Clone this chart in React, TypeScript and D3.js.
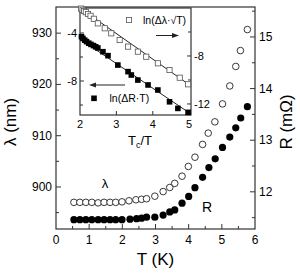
import React from 'react';
import * as d3 from 'd3';

// main panel: temperature sweep
const lambdaT = [0.54, 0.72, 0.9, 1.08, 1.27, 1.45, 1.63, 1.8, 1.99, 2.2, 2.41, 2.58, 2.73, 2.98, 3.23, 3.43, 3.58, 3.8, 3.99, 4.19, 4.42, 4.59, 4.79, 5.02, 5.24, 5.42, 5.56, 5.77];
const lambdaNm = [897.0, 897.0, 897.0, 897.0, 896.9, 897.0, 897.0, 897.0, 897.1, 897.3, 897.5, 897.6, 897.7, 898.2, 899.1, 899.9, 900.7, 902.1, 904.0, 905.8, 908.3, 910.5, 912.7, 916.2, 919.7, 923.5, 926.6, 930.7];
const resT = [0.54, 0.72, 0.9, 1.08, 1.27, 1.45, 1.63, 1.8, 1.99, 2.23, 2.43, 2.58, 2.73, 2.98, 3.23, 3.43, 3.58, 3.8, 4.0, 4.19, 4.42, 4.61, 4.8, 5.02, 5.24, 5.42, 5.57, 5.77];
const resMOhm = [11.46, 11.46, 11.46, 11.46, 11.46, 11.46, 11.46, 11.46, 11.46, 11.47, 11.48, 11.49, 11.51, 11.51, 11.55, 11.61, 11.65, 11.78, 11.91, 12.08, 12.28, 12.47, 12.64, 12.86, 13.06, 13.24, 13.43, 13.65];

// inset: Tc/T
const insetLamX = [2.03, 2.07, 2.11, 2.16, 2.22, 2.29, 2.38, 2.49, 2.68, 2.86, 3.09, 3.32, 3.59, 3.82, 4.14, 4.46, 4.74, 4.97];
const insetLamY = [-4.05, -4.15, -4.25, -4.35, -4.5, -4.65, -4.9, -5.28, -5.69, -6.11, -6.67, -7.22, -7.64, -8.06, -8.61, -9.17, -9.81, -10.36];
const insetResX = [2.04, 2.08, 2.13, 2.18, 2.24, 2.3, 2.37, 2.43, 2.49, 2.63, 2.77, 3.04, 3.32, 3.41, 3.59, 3.87, 4.14, 4.46, 4.69, 4.97];
const insetResY = [-4.31, -4.45, -4.6, -4.72, -4.85, -4.95, -5.05, -5.15, -5.25, -5.56, -5.89, -6.67, -7.22, -7.5, -7.92, -8.33, -8.75, -9.73, -10.28, -10.61];
const fitLam = [[2, -4.0], [5.05, -10.5]];
const fitRes = [[2, -4.5], [5.05, -10.75]];

const xTicks = [0, 1, 2, 3, 4, 5, 6];
const lamTicks = [900, 910, 920, 930];
const resTicks = [12, 13, 14, 15];
const insetXTicks = [2, 3, 4, 5];
const insetLTicks = [-4, -8];
const insetRTicks = [-8, -12];

const FONT = 'Liberation Sans, Arial, sans-serif';

export default function App() {
  const x = d3.scaleLinear().domain([0, 6]).range([56, 255]);
  const yL = d3.scaleLinear().domain([891.8, 935.1]).range([229, 7]);
  const yR = d3.scaleLinear().domain([11.28, 15.58]).range([229, 7]);

  const ix = d3.scaleLinear().domain([2, 5.05]).range([80, 191]);
  const iyL = d3.scaleLinear().domain([-10.83, -1.92]).range([115, 8]);
  const iyR = d3.scaleLinear().domain([-12.92, -4]).range([115, 8]);

  const ax = '#333';
  const [X0, X1] = x.range();
  const [Y0, Y1] = yL.range();
  const [IX0, IX1] = ix.range();
  const [IY0, IY1] = iyL.range();

  const line = d3.line();

  const minorX = d3.range(0.5, 6, 1);
  const minorL = d3.range(895, 935, 10);
  const minorR = d3.range(11.5, 15.6, 1);
  const insetMinorL = [-6, -10];
  const insetMinorR = [-6, -10];

  return (
    <div style={{ position: 'absolute', left: 0, top: 0 }}>
      <svg width={300} height={273} style={{ display: 'block', background: '#fff' }} fontFamily={FONT}>
        {/* main frame */}
        <rect x={X0} y={Y1} width={X1 - X0} height={Y0 - Y1} fill="none" stroke={ax} strokeWidth={1.2} />

        {/* x ticks */}
        {xTicks.map(t => (
          <g key={'x' + t}>
            {t > 0 && t < 6 && <line x1={x(t)} x2={x(t)} y1={Y0} y2={Y0 - 5} stroke={ax} />}
            <text x={x(t)} y={Y0 + 15} fontSize={12} textAnchor="middle">{t}</text>
          </g>
        ))}
        {minorX.map(t => <line key={'mx' + t} x1={x(t)} x2={x(t)} y1={Y0} y2={Y0 - 3} stroke={ax} />)}

        {/* left ticks */}
        {lamTicks.map(t => (
          <g key={'l' + t}>
            <line x1={X0} x2={X0 + 5} y1={yL(t)} y2={yL(t)} stroke={ax} />
            <text x={X0 - 4} y={yL(t) + 4} fontSize={12} textAnchor="end">{t}</text>
          </g>
        ))}
        {minorL.map(t => <line key={'ml' + t} x1={X0} x2={X0 + 3} y1={yL(t)} y2={yL(t)} stroke={ax} />)}

        {/* right ticks */}
        {resTicks.map(t => (
          <g key={'r' + t}>
            <line x1={X1} x2={X1 - 5} y1={yR(t)} y2={yR(t)} stroke={ax} />
            <text x={X1 + 4} y={yR(t) + 4} fontSize={12} textAnchor="start">{t}</text>
          </g>
        ))}
        {minorR.map(t => <line key={'mr' + t} x1={X1} x2={X1 - 3} y1={yR(t)} y2={yR(t)} stroke={ax} />)}

        {/* axis titles */}
        <text x={(X0 + X1) / 2} y={265} fontSize={17} textAnchor="middle">T (K)</text>
        <text transform={`translate(16,${(Y0 + Y1) / 2 + 4}) rotate(-90)`} fontSize={17} textAnchor="middle">λ (nm)</text>
        <text transform={`translate(292,${(Y0 + Y1) / 2 + 4}) rotate(-90)`} fontSize={17} textAnchor="middle">R (mΩ)</text>

        {/* data */}
        {lambdaT.map((t, i) => (
          <circle key={'o' + i} cx={x(t)} cy={yL(lambdaNm[i])} r={3.3} fill="#fff" stroke="#222" strokeWidth={0.9} />
        ))}
        {resT.map((t, i) => (
          <circle key={'f' + i} cx={x(t)} cy={yR(resMOhm[i])} r={3.6} fill="#000" />
        ))}
        <text x={105} y={188} fontSize={13} textAnchor="middle">λ</text>
        <text x={207} y={212} fontSize={14} textAnchor="middle">R</text>

        {/* inset */}
        <rect x={IX0} y={IY1} width={IX1 - IX0} height={IY0 - IY1} fill="#fff" stroke={ax} strokeWidth={1.2} />
        {insetXTicks.map(t => (
          <g key={'ix' + t}>
            {t > 2 && t < 5 && <line x1={ix(t)} x2={ix(t)} y1={IY0} y2={IY0 - 4} stroke={ax} />}
            <text x={ix(t)} y={IY0 + 13} fontSize={11} textAnchor="middle">{t}</text>
          </g>
        ))}
        {insetLTicks.map(t => (
          <g key={'il' + t}>
            <line x1={IX0} x2={IX0 + 4} y1={iyL(t)} y2={iyL(t)} stroke={ax} />
            <text x={IX0 - 3} y={iyL(t) + 4} fontSize={11} textAnchor="end">{t}</text>
          </g>
        ))}
        {insetMinorL.map(t => <line key={'iml' + t} x1={IX0} x2={IX0 + 3} y1={iyL(t)} y2={iyL(t)} stroke={ax} />)}
        {insetRTicks.map(t => (
          <g key={'ir' + t}>
            <line x1={IX1} x2={IX1 - 4} y1={iyR(t)} y2={iyR(t)} stroke={ax} />
            <text x={IX1 + 3} y={iyR(t) + 4} fontSize={11} textAnchor="start">{t}</text>
          </g>
        ))}
        {insetMinorR.map(t => <line key={'imr' + t} x1={IX1} x2={IX1 - 3} y1={iyR(t)} y2={iyR(t)} stroke={ax} />)}
        <text x={128} y={145} fontSize={13}>
          T<tspan fontSize={9} dy={3}>c</tspan><tspan dy={-3}>/T</tspan>
        </text>

        <path d={line(fitLam.map(([a, b]) => [ix(a), iyR(b)]) as [number, number][]) || ''} stroke="#222" strokeWidth={1} fill="none" />
        <path d={line(fitRes.map(([a, b]) => [ix(a), iyL(b)]) as [number, number][]) || ''} stroke="#222" strokeWidth={1} fill="none" />
        {insetLamX.map((t, i) => (
          <rect key={'is' + i} x={ix(t) - 2.6} y={iyR(insetLamY[i]) - 2.6} width={5.2} height={5.2} fill="#fff" stroke="#555" strokeWidth={0.8} />
        ))}
        {insetResX.map((t, i) => (
          <rect key={'if' + i} x={ix(t) - 2.8} y={iyL(insetResY[i]) - 2.8} width={5.6} height={5.6} fill="#000" />
        ))}

        {/* inset legend */}
        <rect x={126.4} y={17.4} width={5.2} height={5.2} fill="#fff" stroke="#555" strokeWidth={0.8} />
        <text x={143} y={23.5} fontSize={10.5}>ln(Δλ·√T)</text>
        <line x1={156} x2={174} y1={35.5} y2={35.5} stroke="#222" />
        <path d="M179,35.5 L172,33 L172,38 Z" fill="#222" />

        <rect x={91.2} y={95.5} width={5.6} height={5.6} fill="#000" />
        <text x={109.5} y={102} fontSize={10.5}>ln(ΔR·T)</text>
        <line x1={94} x2={125} y1={85} y2={85} stroke="#222" />
        <path d="M89,85 L96,82.5 L96,87.5 Z" fill="#222" />
      </svg>
    </div>
  );
}
